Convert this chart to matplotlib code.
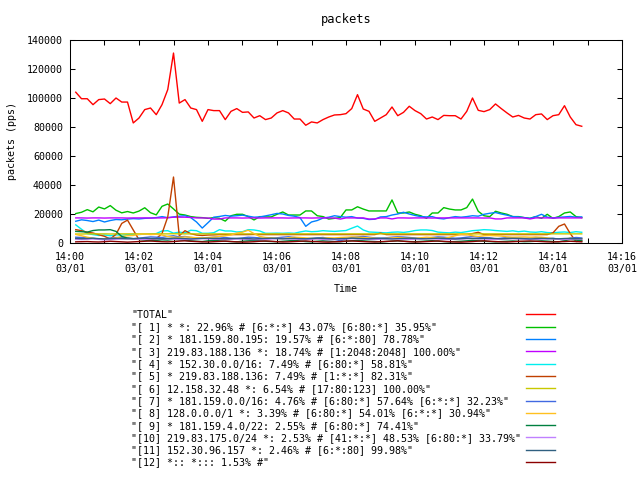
import pandas as pd
import matplotlib
matplotlib.use('Agg')
import matplotlib.pyplot as plt
import matplotlib.dates as mdates

plt.rcParams['font.family'] = ['DejaVu Sans Mono']
plt.rcParams['font.size'] = 7.2

# samples every 10 s, 14:00:10 .. 14:14:50
times = pd.date_range('2000-03-01 14:00:10', periods=89, freq='10s')

total = [104000, 99500, 99500, 95400, 98900, 99300, 96100, 100000, 97200, 97200,
         82800, 86200, 92000, 93100, 88500, 95400, 105800, 131000, 96500, 98900,
         93100, 92000, 83900, 92000, 91300, 91300, 85100, 90800, 92700, 90100,
         90400, 86200, 87800, 85100, 86200, 89700, 91300, 89700, 85500, 85500,
         81200, 83500, 82800, 85100, 86900, 88300, 88500, 89200, 92700, 102300,
         92400, 90800, 83900, 86200, 88500, 93800, 87800, 90100, 94300, 91300,
         89200, 85500, 86900, 85100, 88000, 87800, 87800, 85500, 90800, 100000,
         91500, 90600, 92000, 95900, 92700, 89700, 86900, 88000, 86200, 85500,
         88500, 89000, 85100, 87800, 88500, 94700, 86900, 81600, 80500]
s1 = [20300, 21200, 23000, 21500, 24800, 23500, 25800, 22600, 20800, 21700,
      20700, 22000, 24300, 20900, 19400, 25300, 26900, 23500, 19900, 19300,
      18200, 17700, 17500, 17000, 17500, 17000, 15100, 18800, 19800, 19800,
      18200, 15900, 18200, 18000, 18000, 19800, 21400, 19300, 19300, 19300,
      22100, 22100, 18800, 18200, 16500, 17000, 17500, 22800, 22800, 25000,
      23400, 22100, 22100, 22100, 22100, 29700, 20700, 20700, 21400, 19800,
      18800, 17000, 20700, 20700, 24400, 23400, 22800, 22800, 24400, 30300,
      21900, 18800, 18200, 21900, 20700, 19800, 18200, 18200, 17500, 17000,
      18200, 17000, 19800, 17000, 18200, 20700, 21400, 18200, 17500]
s2 = [15000, 16000, 15500, 14800, 15800, 14500, 15500, 16200, 16000, 16500,
      16800, 16600, 17000, 17200, 17500, 18200, 17500, 18000, 18500, 18800,
      17500, 14500, 10300, 14000, 17800, 18300, 19000, 18500, 18800, 19200,
      18500, 17800, 18000, 18700, 19500, 20400, 20000, 19000, 18500, 17500,
      11500, 14500, 15500, 17200, 17800, 18800, 18200, 17800, 18200, 17200,
      17000, 16200, 16400, 18000, 18200, 19300, 20000, 21200, 20000, 19000,
      18200, 18000, 18200, 17000, 16600, 17500, 18200, 17800, 18200, 18800,
      18500, 19800, 20500, 21000, 20000, 19200, 18200, 18000, 17500, 17000,
      18200, 19800, 17800, 17300, 17700, 18000, 18300, 17800, 18000]
s3 = [17300, 17300, 17200, 17300, 17300, 17200, 17300, 17300, 17300, 17200,
      17300, 17300, 17300, 17200, 17300, 17300, 17400, 17800, 17800, 17800,
      17600, 17300, 17300, 17200, 16500, 16500, 17300, 17300, 17300, 17200,
      17300, 17300, 17200, 17300, 17300, 17300, 17300, 17200, 17300, 17300,
      17300, 17200, 17300, 17300, 17300, 17200, 16500, 17300, 17300, 17300,
      17300, 16500, 16600, 17300, 17300, 16600, 17300, 17300, 17200, 17300,
      17300, 17300, 17200, 17300, 17300, 17300, 17300, 17300, 17300, 17300,
      17300, 17200, 17300, 16600, 16600, 17300, 17300, 17300, 17300, 16600,
      17300, 17300, 17300, 17200, 17300, 17300, 17300, 17300, 17300]
s4 = [12500, 9500, 6500, 5800, 5200, 5500, 5000, 5600, 5400, 5800,
      6000, 5800, 6200, 6000, 6500, 8300, 8500, 6800, 7500, 7000,
      8800, 8500, 6700, 6700, 7100, 9200, 8300, 8300, 7600, 7800,
      9200, 9000, 8300, 6700, 6700, 6800, 6700, 6900, 6700, 7600,
      8300, 7800, 8000, 8500, 8200, 8000, 8300, 8600, 10200, 11700,
      9000, 7600, 7400, 7200, 7000, 7400, 7600, 7300, 7800, 8600,
      9000, 9000, 8600, 7500, 7200, 7000, 7500, 7200, 7800, 8500,
      8800, 9200, 9000, 8600, 8300, 8000, 8400, 7800, 8200, 7600,
      7400, 7800, 7200, 7000, 7400, 7600, 7200, 7800, 7400]
s5 = [9200, 8500, 7400, 6900, 5700, 4600, 2800, 6000, 13500, 15800,
      9000, 2300, 2500, 2200, 3000, 6500, 18000, 45500, 5000, 8500,
      6400, 5500, 5200, 5500, 5600, 5800, 5800, 5800, 5800, 5800,
      5800, 5900, 5800, 5800, 5800, 5800, 5800, 5800, 5800, 5800,
      5800, 5800, 5800, 5800, 5800, 5800, 5800, 5800, 5800, 5800,
      5800, 5800, 5800, 6800, 5800, 5800, 5800, 5800, 5800, 5800,
      5800, 5800, 5800, 5800, 5800, 5800, 5800, 5800, 5800, 6500,
      7400, 5800, 5800, 5800, 5800, 5800, 5800, 5800, 5800, 5800,
      5800, 5800, 5800, 7000, 11500, 13100, 6500, 1000, 1500]
s6 = [6200, 6200, 6300, 6300, 6300, 6300, 6200, 6300, 6300, 6300,
      6300, 6300, 6300, 6300, 6300, 6300, 6300, 6400, 6300, 6300,
      6300, 6300, 6300, 6300, 6300, 6300, 6300, 6300, 6300, 6300,
      6300, 6300, 6300, 6300, 6300, 6300, 6300, 6300, 6300, 6300,
      6300, 6300, 6300, 6300, 6300, 6300, 6300, 6300, 6300, 6300,
      6300, 6300, 6300, 6300, 6300, 6300, 6300, 6300, 6300, 6300,
      6300, 6300, 6300, 6300, 6300, 6300, 6300, 6300, 6300, 6300,
      6300, 6300, 6300, 6300, 6300, 6300, 6300, 6300, 6300, 6300,
      6300, 6300, 6300, 6300, 6300, 6300, 6300, 6300, 6300]
s7 = [4000, 3800, 3500, 3200, 2800, 3000, 3400, 3800, 3600, 3500,
      3000, 3300, 3800, 4200, 4000, 3800, 4500, 5000, 4200, 4500,
      3800, 3500, 3200, 3600, 4000, 4200, 3800, 3300, 3000, 3500,
      4000, 3800, 3500, 3000, 3200, 3600, 4000, 4300, 3800, 3400,
      3000, 3200, 3500, 3800, 3200, 2600, 1500, 2800, 3800, 4200,
      4500, 4000, 3500, 3300, 3600, 4000, 4300, 4100, 3800, 3500,
      3000, 3200, 3800, 4200, 4000, 3600, 3300, 3500, 4000, 4400,
      4000, 3700, 3500, 2800, 3300, 3800, 3600, 3400, 3200, 3500,
      3800, 3500, 3000, 3300, 2600, 2200, 3300, 3800, 3500]
s8 = [5900, 5000, 4000, 3200, 2800, 2800, 3000, 3500, 4500, 5000,
      5200, 6000, 6200, 5800, 6000, 5500, 4500, 4000, 3800, 4200,
      4000, 3600, 3500, 3800, 4000, 4500, 5000, 5500, 6800, 7500,
      8800, 6500, 4500, 3800, 3500, 3200, 3000, 3500, 4000, 3800,
      3500, 3200, 3000, 3300, 3600, 3500, 3800, 4000, 4200, 4000,
      3800, 3500, 3300, 3000, 3200, 3500, 3800, 3600, 3400, 3200,
      3600, 4000, 3800, 3500, 3300, 4000, 5000, 6000, 5800, 5000,
      4500, 5000, 5200, 5000, 4800, 4200, 4000, 4100, 4200, 4000,
      4100, 4000, 3500, 3000, 2500, 2800, 3200, 2800, 3000]
s9 = [8000, 7800, 7500, 8600, 9000, 9000, 9200, 8000, 4500, 3400,
      3000, 2500, 2000, 1500, 1800, 2200, 2000, 2500, 2200, 1800,
      1500, 1200, 1000, 1500, 1800, 1500, 1200, 1000, 800, 1200,
      1500, 1800, 1500, 1200, 1000, 900, 1200, 1500, 1800, 1400,
      1000, 800, 1200, 1500, 1300, 1000, 900, 1200, 1500, 1800,
      1500, 1200, 1000, 800, 1000, 1300, 1500, 1200, 1000, 900,
      1100, 1400, 1600, 1300, 1000, 800, 1000, 1200, 1500, 1800,
      1500, 1200, 1000, 800, 1000, 1200, 1400, 1100, 900, 1000,
      1200, 1500, 1300, 1000, 800, 1500, 2500, 2000, 1500]
s10 = [2500, 2400, 2600, 2800, 2500, 2200, 2400, 2600, 2800, 3000,
       2800, 2600, 2500, 2700, 2900, 3000, 2800, 2600, 2500, 2400,
       2600, 2800, 3000, 2800, 2600, 2500, 2400, 2600, 2800, 2700,
       2500, 2400, 2300, 2500, 2800, 3000, 3100, 2900, 2700, 2500,
       2400, 2600, 2800, 2500, 2300, 2400, 2600, 2800, 3000, 2900,
       2700, 2500, 2400, 2600, 2800, 3000, 2800, 2600, 2500, 2700,
       2900, 3100, 2900, 2700, 2500, 2400, 2600, 2800, 3000, 3200,
       3000, 2800, 2600, 2500, 2700, 2900, 3000, 2800, 2600, 2400,
       2500, 2700, 2900, 2800, 2600, 2500, 2700, 2800, 2600]
s11 = [3200, 3000, 3100, 3300, 3000, 2800, 3000, 3200, 3100, 2900,
       3000, 3200, 3300, 3100, 3000, 2900, 3100, 3300, 3200, 3000,
       2800, 3000, 3200, 3300, 3100, 3000, 2900, 3000, 3200, 3100,
       3000, 2800, 3000, 3200, 3300, 3100, 2900, 3000, 3200, 3000,
       2900, 3100, 3300, 3200, 3000, 2800, 3000, 3100, 3300, 3200,
       3000, 2900, 3100, 3200, 3000, 2800, 3000, 3200, 3300, 3100,
       3000, 2900, 3100, 3300, 3200, 3000, 2800, 3000, 3200, 3100,
       3000, 3200, 3300, 3100, 2900, 3000, 3200, 3100, 3000, 2800,
       3000, 3200, 3100, 3000, 2900, 3100, 3200, 3000, 2900]
s12 = [800, 900, 1000, 800, 700, 900, 1200, 1000, 800, 600,
       800, 1000, 1200, 1400, 1100, 900, 800, 1000, 1300, 1500,
       1200, 1000, 800, 700, 900, 1100, 1300, 1000, 800, 600,
       700, 900, 1200, 1400, 1200, 900, 700, 800, 1000, 1200,
       1400, 1100, 900, 700, 600, 800, 1000, 1300, 1400, 1200,
       1000, 800, 700, 900, 1100, 1300, 1500, 1200, 900, 700,
       800, 1000, 1200, 1400, 1100, 900, 700, 600, 800, 1000,
       1300, 1500, 1200, 1000, 800, 700, 900, 1100, 1300, 1400,
       1200, 1000, 800, 700, 900, 1000, 1200, 1000, 800]

labels = ['"TOTAL"',
          '"[ 1] * *: 22.96% # [6:*:*] 43.07% [6:80:*] 35.95%"',
          '"[ 2] * 181.159.80.195: 19.57% # [6:*:80] 78.78%"',
          '"[ 3] 219.83.188.136 *: 18.74% # [1:2048:2048] 100.00%"',
          '"[ 4] * 152.30.0.0/16: 7.49% # [6:80:*] 58.81%"',
          '"[ 5] * 219.83.188.136: 7.49% # [1:*:*] 82.31%"',
          '"[ 6] 12.158.32.48 *: 6.54% # [17:80:123] 100.00%"',
          '"[ 7] * 181.159.0.0/16: 4.76% # [6:80:*] 57.64% [6:*:*] 32.23%"',
          '"[ 8] 128.0.0.0/1 *: 3.39% # [6:80:*] 54.01% [6:*:*] 30.94%"',
          '"[ 9] * 181.159.4.0/22: 2.55% # [6:80:*] 74.41%"',
          '"[10] 219.83.175.0/24 *: 2.53% # [41:*:*] 48.53% [6:80:*] 33.79%"',
          '"[11] 152.30.96.157 *: 2.46% # [6:*:80] 99.98%"',
          '"[12] *:: *::: 1.53% #"']
colors = ['#ff0000', '#00c000', '#0080ff', '#c000ff', '#00eeee', '#c04000', '#c8c800',
          '#4169e1', '#ffc020', '#008040', '#c080ff', '#306080', '#8b0000']
series = [total, s1, s2, s3, s4, s5, s6, s7, s8, s9, s10, s11, s12]

fig = plt.figure(figsize=(6.4, 4.8), dpi=100)
ax = fig.add_axes([70/640, 1-243/480, 552/640, 203/480])

lines = []
for vals, col in zip(series, colors):
    ln, = ax.plot(times, vals, color=col, lw=1.0)
    lines.append(ln)

ax.set_xlim(pd.Timestamp('2000-03-01 14:00'), pd.Timestamp('2000-03-01 14:16'))
ax.set_ylim(0, 140000)
ax.yaxis.set_major_locator(plt.MultipleLocator(20000))
ax.xaxis.set_major_locator(mdates.MinuteLocator(byminute=range(0, 60, 2)))
ax.xaxis.set_minor_locator(mdates.MinuteLocator())
ax.xaxis.set_major_formatter(mdates.DateFormatter('%H:%M\n%m/%d'))
ax.tick_params(which='both', direction='in', top=True, right=True,
               length=3.4, width=0.75, colors='black')
ax.tick_params(axis='x', pad=6.5)
ax.tick_params(axis='y', pad=5)
for lab in ax.get_xticklabels():
    lab.set_linespacing(1.3)
for sp in ax.spines.values():
    sp.set_linewidth(0.75)

ax.set_title('packets', pad=12)
ax.set_ylabel('packets (pps)')
ax.yaxis.set_label_coords(-0.096, 0.5)
ax.set_xlabel('Time')
ax.xaxis.set_label_coords(0.5, -0.202)

# key below the plot: texts on the left, samples on the right
leg_txt = ax.legend(lines, labels, loc='upper left', bbox_to_anchor=(0.1105, -0.33),
                    frameon=False, borderpad=0, borderaxespad=0, handlelength=0,
                    handletextpad=0, labelspacing=0.23)
for h in leg_txt.legend_handles:
    h.set_visible(False)
ax.add_artist(leg_txt)
ax.legend(lines, [''] * len(lines), loc='upper left', bbox_to_anchor=(0.826, -0.33),
          frameon=False, borderpad=0, borderaxespad=0, handlelength=2.9,
          handletextpad=0, labelspacing=0.23)

fig.savefig('out.png', dpi=100)
